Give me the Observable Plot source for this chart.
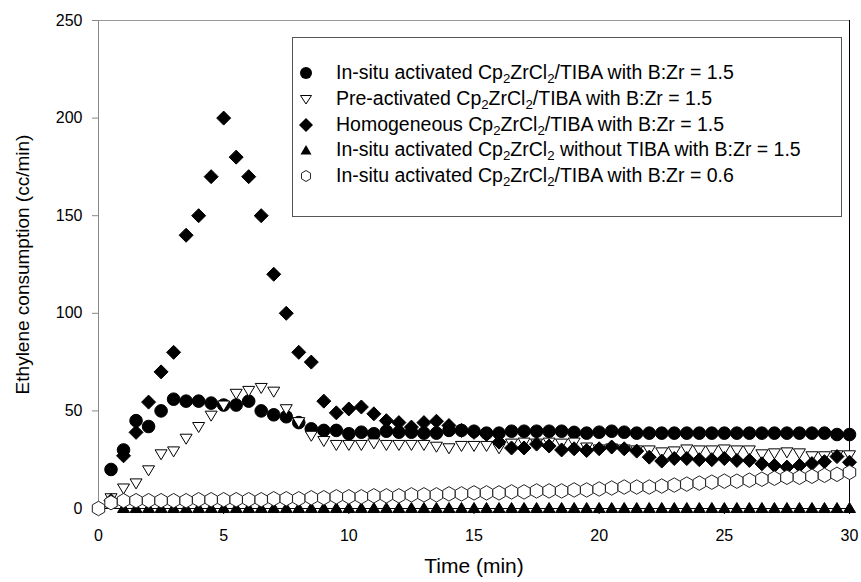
<!DOCTYPE html>
<html>
<head>
<meta charset="utf-8">
<script src="https://cdn.jsdelivr.net/npm/d3@7"></script>
<script src="https://cdn.jsdelivr.net/npm/@observablehq/plot@0.6"></script>
<style>
  html, body { margin: 0; padding: 0; background: #fff; }
  #wrap { position: relative; width: 861px; height: 582px; font-family: "Liberation Sans", Arial, Helvetica, sans-serif; }
  #legend { position: absolute; left: 292px; top: 37px; width: 550px; height: 180px; border: 1px solid #555; background: #fff; box-sizing: border-box; padding-top: 22px; }
  .row { height: 25.75px; line-height: 25.75px; position: relative; font-size: 19.5px; color: #000; white-space: nowrap; }
  .row svg { position: absolute; left: 4px; top: 4px; }
  .row span { position: absolute; left: 43px; top: 0; }
  sub { font-size: 0.68em; vertical-align: -0.3em; line-height: 0; }
</style>
</head>
<body>
<div id="wrap"></div>
<script>
// ---- data ----
const times = [0,0.5,1,1.5,2,2.5,3,3.5,4,4.5,5,5.5,6,6.5,7,7.5,8,8.5,9,9.5,10,10.5,11,11.5,12,12.5,13,13.5,14,14.5,15,15.5,16,16.5,17,17.5,18,18.5,19,19.5,20,20.5,21,21.5,22,22.5,23,23.5,24,24.5,25,25.5,26,26.5,27,27.5,28,28.5,29,29.5,30];

// In-situ activated Cp2ZrCl2/TIBA, B:Zr = 1.5 (filled circles)
const insitu15 = [null,20,30,45,42,50,56,55,55,54,53,53,55,50,48,47,44,40.8,40,40,38.3,39.1,38.3,39.6,39.1,39.1,38.6,38.6,40,40,39.6,38.6,38.6,39.6,39.6,39.6,39.6,39.6,39,38.6,39.1,39.6,39.1,38.6,38.6,38.6,38.6,38.6,38.6,38.6,38.6,38.6,38.6,38.6,38.6,38.6,38.6,38.6,38.6,37.9,37.9];

// Pre-activated Cp2ZrCl2/TIBA, B:Zr = 1.5 (open down triangles)
const preact15 = [null,5,10,12.6,19.3,27.5,29,35.5,41.5,47.3,52.5,58.5,60,61.5,59.6,50.6,44,37,34.3,32.3,32.3,32.3,33.1,32.3,32.3,32.3,32.3,31.4,30.6,31.8,31.8,31.8,30.6,33,33.5,33,33.5,33,33.5,31,30,30.5,30,29.5,29.5,28.5,29,30,29.5,29.5,30,29.5,29.5,27.5,28,28.5,28,26.5,26.5,27,27];

// Homogeneous Cp2ZrCl2/TIBA, B:Zr = 1.5 (filled diamonds)
const homog15 = [null,4,27,39,54.5,70,80,140,150,170,200,180,170,150,120,100,80,75,55,49,51,52,48.5,45,44,41.7,44,44.7,42.5,40,39,38,34,31,31,33,32,30,30.6,29.7,30.6,31.5,30.6,29.4,26.3,24.3,25.6,25.6,25,25,25.6,24.6,24.6,22.9,22,21.2,22,23,24,26.6,23.7];

// In-situ activated Cp2ZrCl2 without TIBA, B:Zr = 1.5 (filled up triangles)
const noTiba15 = [null,3.5,0.5,0.5,0.5,0.5,0.5,0.5,0.5,0.5,0.5,0.5,0.5,0.5,0.5,0.5,0.5,0.5,0.5,0.5,0.5,0.5,0.5,0.5,0.5,0.5,0.5,0.5,0.5,0.5,0.5,0.5,0.5,0.5,0.5,0.5,0.5,0.5,0.5,0.5,0.5,0.5,0.5,0.5,0.5,0.5,0.5,0.5,0.5,0.5,0.5,0.5,0.5,0.5,0.5,0.5,0.5,0.5,0.5,0.5,0.5];

// In-situ activated Cp2ZrCl2/TIBA, B:Zr = 0.6 (open hexagons)
const insitu06 = [0,3,4,4,4,4,4,4,4.5,4.5,4.5,4.5,4.5,4.5,5,5,5,5.5,5.5,6,6,6,6.5,6.5,6.5,7,7,7,7.5,7.5,8,8,8,8.5,8.5,9,9,9,9.5,9.5,10,10.5,11,11,11,11.5,12,12.5,13,13.5,14,14,14.5,15,15.5,16,16,16.5,17,17.5,18.5];

const xTicks = [0,5,10,15,20,25,30];
const yTicks = [0,50,100,150,200,250];
const xTitle = "Time (min)";
const yTitle = "Ethylene consumption (cc/min)";
const seriesNames = [
  "In-situ activated Cp<sub>2</sub>ZrCl<sub>2</sub>/TIBA with B:Zr = 1.5",
  "Pre-activated Cp<sub>2</sub>ZrCl<sub>2</sub>/TIBA with B:Zr = 1.5",
  "Homogeneous Cp<sub>2</sub>ZrCl<sub>2</sub>/TIBA with B:Zr = 1.5",
  "In-situ activated Cp<sub>2</sub>ZrCl<sub>2</sub> without TIBA with B:Zr = 1.5",
  "In-situ activated Cp<sub>2</sub>ZrCl<sub>2</sub>/TIBA with B:Zr = 0.6"
];

// ---- custom marker shapes (scaled from radius) ----
function poly(pts) {
  return { draw(ctx, size) {
    const k = Math.sqrt(size / Math.PI) / 6;
    pts.forEach(([x, y], i) => i ? ctx.lineTo(x * k, y * k) : ctx.moveTo(x * k, y * k));
    ctx.closePath();
  }};
}
const symDiamond = poly([[0,-7],[7,0],[0,7],[-7,0]]);
const symDown = poly([[-6,-5],[6,-5],[0,5]]);
const symUp = poly([[0,-5],[6,5],[-6,5]]);
const symHex = poly([[0,-7],[6,-3.5],[6,3.5],[0,7],[-6,3.5],[-6,-3.5]]);

const rows = arr => times.map((t, i) => ({t, v: arr[i]})).filter(d => d.v != null);

const series = [
  {data: insitu15, symbol: "circle", r: 6.3, fill: "#000", stroke: "#000"},
  {data: preact15, symbol: symDown, r: 6, fill: "#fff", stroke: "#000"},
  {data: homog15, symbol: symDiamond, r: 6, fill: "#000", stroke: "#000"},
  {data: noTiba15, symbol: symUp, r: 6, fill: "#000", stroke: "#000"},
  {data: insitu06, symbol: symHex, r: 6.2, fill: "#fff", stroke: "#222"}
];

const chart = Plot.plot({
  width: 861,
  height: 582,
  marginLeft: 98,
  marginRight: 12,
  marginTop: 20,
  marginBottom: 74,
  x: {domain: [0, 30]},
  y: {domain: [0, 250]},
  style: {fontFamily: "'Liberation Sans', Arial, Helvetica, sans-serif", color: "#000", background: "#fff", overflow: "visible"},
  marks: [
    Plot.ruleY([250], {stroke: "#999"}),
    Plot.ruleX([0], {stroke: "#888"}),
    Plot.ruleX([30], {stroke: "#000"}),
    Plot.axisY({ticks: yTicks, tickSize: 6, tickPadding: 10, fontSize: 16, stroke: "#888", label: null, tickFormat: d => String(d)}),
    Plot.axisX({ticks: xTicks, tickSize: 6, tickPadding: 15, fontSize: 16, stroke: "#000", label: null, tickFormat: d => String(d)}),
    Plot.ruleY([0], {stroke: "#000"}),
    ...series.map(s => Plot.dot(rows(s.data), {x: "t", y: "v", symbol: s.symbol, r: s.r, fill: s.fill, stroke: s.stroke, strokeWidth: 1})),
    Plot.text([xTitle], {frameAnchor: "bottom", dy: 58, fontSize: 21, textAnchor: "middle", lineAnchor: "middle", text: d => d}),
    Plot.text([yTitle], {frameAnchor: "left", dx: -76, rotate: -90, fontSize: 19, textAnchor: "middle", text: d => d})
  ]
});

const wrap = document.getElementById("wrap");
wrap.appendChild(chart);

// ---- legend ----
const legendShapes = [
  '<circle cx="9" cy="9" r="6" fill="#000"/>',
  '<path d="M3.5,5.5L14.5,5.5L9,14Z" fill="#fff" stroke="#000"/>',
  '<path d="M9,2L16,9L9,16L2,9Z" fill="#000"/>',
  '<path d="M9,4L14.5,13.5L3.5,13.5Z" fill="#000"/>',
  '<path d="M9,3.5L13.5,6.2L13.5,11.8L9,14.5L4.5,11.8L4.5,6.2Z" fill="#fff" stroke="#222"/>'
];
const legend = document.createElement("div");
legend.id = "legend";
seriesNames.forEach((name, i) => {
  const row = document.createElement("div");
  row.className = "row";
  row.innerHTML = `<svg width="18" height="18" viewBox="0 0 18 18">${legendShapes[i]}</svg><span>${name}</span>`;
  legend.appendChild(row);
});
wrap.appendChild(legend);
</script>
</body>
</html>
